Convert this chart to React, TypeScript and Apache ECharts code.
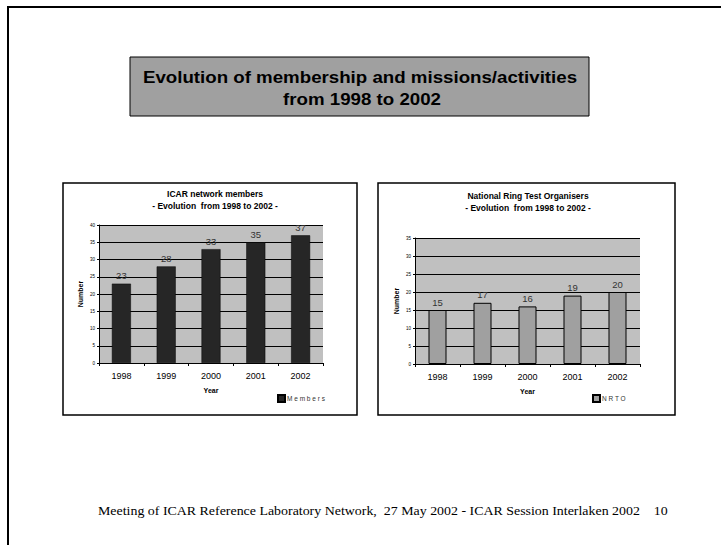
import React, { useEffect, useRef } from "react";
import * as echarts from "echarts";

const years = ["1998", "1999", "2000", "2001", "2002"];
const members = [23, 28, 33, 35, 37];
const nrto = [15, 17, 16, 19, 20];
const leftTitle = "ICAR network members\n- Evolution  from 1998 to 2002 -";
const rightTitle = "National Ring Test Organisers\n- Evolution  from 1998 to 2002 -";
const slideTitle1 = "Evolution of membership and missions/activities";
const slideTitle2 = "from 1998 to 2002";
const footer = "Meeting of ICAR Reference Laboratory Network,  27 May 2002 - ICAR Session Interlaken 2002    10";

const FONT = "Liberation Sans, Arial, sans-serif";

function axisPair(max: number, gridIndex: number) {
  const x = {
    type: "category",
    gridIndex,
    data: years,
    boundaryGap: true,
    name: "Year",
    nameLocation: "middle",
    nameGap: 24,
    nameTextStyle: { fontFamily: FONT, fontSize: 7, fontWeight: "bold", color: "#000" },
    axisLine: { lineStyle: { color: "#000", width: 1 } },
    axisTick: { show: true, length: 3, lineStyle: { color: "#000" } },
    axisLabel: { fontFamily: FONT, fontSize: 9, color: "#000", margin: 8 },
    splitLine: { show: false },
  };
  const y = {
    type: "value",
    gridIndex,
    min: 0,
    max,
    interval: 5,
    name: "Number",
    nameLocation: "middle",
    nameGap: 15,
    nameRotate: 90,
    nameTextStyle: { fontFamily: FONT, fontSize: 7, fontWeight: "bold", color: "#000" },
    axisLine: { show: true, lineStyle: { color: "#000", width: 1 } },
    axisTick: { show: true, length: 2, lineStyle: { color: "#000" } },
    axisLabel: { fontFamily: FONT, fontSize: 4.5, color: "#000", margin: 4 },
    splitLine: { show: true, lineStyle: { color: "#000", width: 1 } },
  };
  return { x, y };
}

export default function App() {
  const ref = useRef<HTMLDivElement>(null);
  useEffect(() => {
    if (!ref.current) return;
    const chart = echarts.init(ref.current, null, { renderer: "svg" });
    const a = axisPair(40, 0);
    const b = axisPair(35, 1);
    const titleStyle = { fontFamily: FONT, fontSize: 8.5, fontWeight: "bold", color: "#000", lineHeight: 12 };
    chart.setOption({
      animation: false,
      backgroundColor: "#fff",
      title: [
        { text: leftTitle, left: 210, top: 183, textAlign: "center", textStyle: titleStyle },
        { text: rightTitle, left: 523, top: 185, textAlign: "center", textStyle: titleStyle },
      ],
      legend: [
        {
          data: ["M e m b e r s"],
          left: 272,
          top: 389,
          itemWidth: 7,
          itemHeight: 7,
          icon: "rect",
          textStyle: { fontFamily: FONT, fontSize: 6.5, color: "#333", padding: [0, 0, 0, -3] },
        },
        {
          data: ["N R T O"],
          left: 587,
          top: 389,
          itemWidth: 7,
          itemHeight: 7,
          icon: "rect",
          textStyle: { fontFamily: FONT, fontSize: 6.5, color: "#333", padding: [0, 0, 0, -3] },
        },
      ],
      grid: [
        { left: 99, top: 225, width: 224, height: 138, show: true, backgroundColor: "#c0c0c0", borderWidth: 0 },
        { left: 415, top: 238, width: 225, height: 126, show: true, backgroundColor: "#c0c0c0", borderWidth: 0 },
      ],
      xAxis: [a.x, b.x],
      yAxis: [a.y, b.y],
      series: [
        {
          name: "M e m b e r s",
          type: "bar",
          xAxisIndex: 0,
          yAxisIndex: 0,
          data: members,
          barWidth: 19,
          itemStyle: { color: "#262626", borderColor: "#000", borderWidth: 0.5 },
          label: { show: true, position: "top", distance: 3, fontFamily: FONT, fontSize: 9.5, color: "#333" },
        },
        {
          name: "N R T O",
          type: "bar",
          xAxisIndex: 1,
          yAxisIndex: 1,
          data: nrto,
          barWidth: 18,
          itemStyle: { color: "#a0a0a0", borderColor: "#000", borderWidth: 1 },
          label: { show: true, position: "top", distance: 3, fontFamily: FONT, fontSize: 9.5, color: "#333" },
        },
      ],
      graphic: [
        { type: "line", shape: { x1: 8, y1: 7, x2: 721, y2: 7 }, style: { stroke: "#000", lineWidth: 2 }, z: 10 },
        { type: "line", shape: { x1: 8, y1: 6, x2: 8, y2: 545 }, style: { stroke: "#000", lineWidth: 2 }, z: 10 },
        { type: "rect", shape: { x: 130, y: 57, width: 459, height: 59 }, style: { fill: "#a0a0a0", stroke: "#000", lineWidth: 1 }, z: -1 },
        {
          type: "text",
          x: 360,
          y: 77,
          scaleX: 1.1,
          style: { text: slideTitle1, fontFamily: FONT, fontSize: 17, fontWeight: "bold", fill: "#000", align: "center", verticalAlign: "middle" },
        },
        {
          type: "text",
          x: 362,
          y: 99,
          scaleX: 1.1,
          style: { text: slideTitle2, fontFamily: FONT, fontSize: 17, fontWeight: "bold", fill: "#000", align: "center", verticalAlign: "middle" },
        },
        { type: "rect", shape: { x: 63, y: 183, width: 294, height: 232 }, style: { fill: "none", stroke: "#000", lineWidth: 1.5 }, z: -1 },
        { type: "rect", shape: { x: 378, y: 183, width: 297, height: 232 }, style: { fill: "none", stroke: "#000", lineWidth: 1.5 }, z: -1 },
        {
          type: "text",
          x: 98,
          y: 511,
          scaleX: 1.18,
          style: { text: footer, fontFamily: "Liberation Serif, Times New Roman, serif", fontSize: 11.8, fill: "#000", verticalAlign: "middle" },
        },
      ],
    });
    return () => chart.dispose();
  }, []);
  return <div ref={ref} style={{ position: "fixed", left: 0, top: 0, width: 721, height: 545 }} />;
}
